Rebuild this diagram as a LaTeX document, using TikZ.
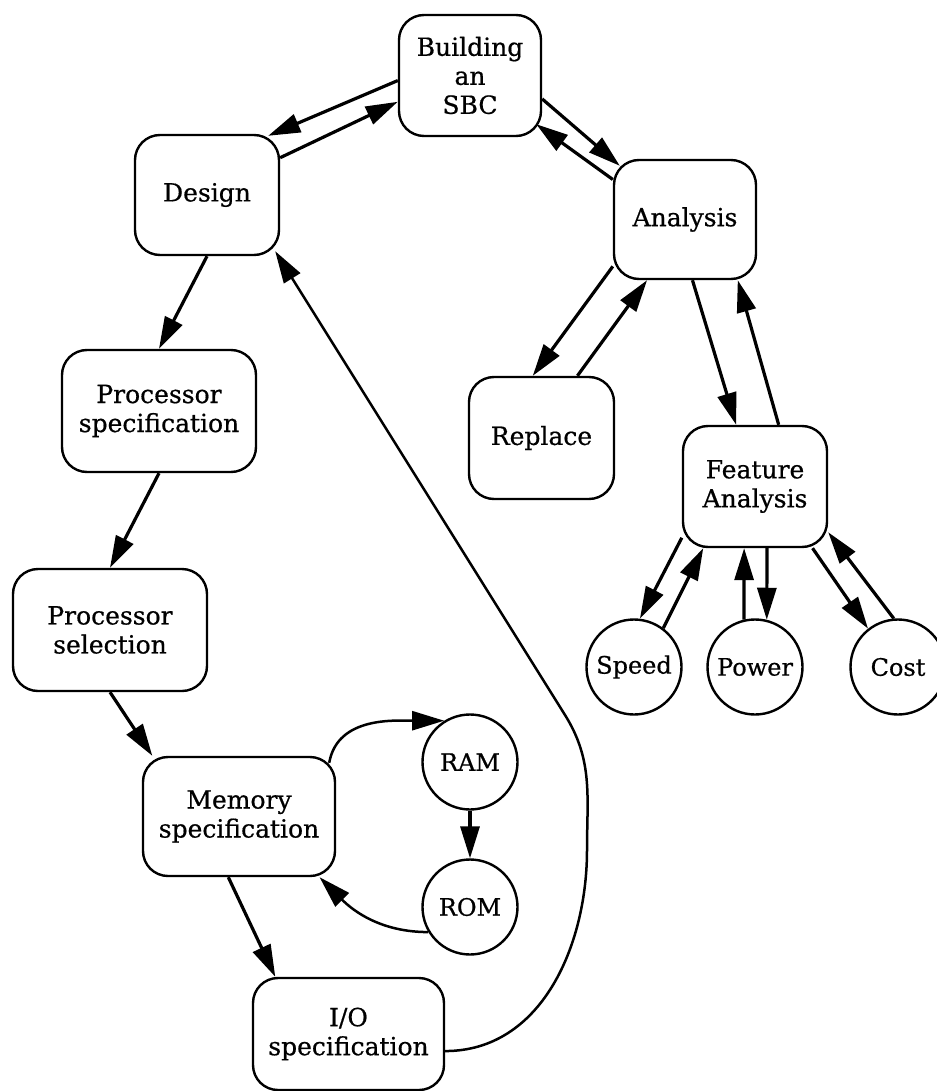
\documentclass[tikz,border=0pt]{standalone}
\usepackage{fontspec}
\setmainfont{DejaVu Serif}
\newfontfamily\boxfont[FakeBold=0.6]{DejaVu Serif}
\usetikzlibrary{arrows.meta,calc}

\begin{document}
\begin{tikzpicture}[x=1pt,y=1pt,
  box/.style={draw,line width=2.4pt,rounded corners=25pt,align=center,inner sep=0pt,
    font=\boxfont\fontsize{25}{29}\selectfont},
  ball/.style={draw,circle,line width=2.4pt,inner sep=0pt,minimum size=95pt,
    font=\boxfont\fontsize{24}{28}\selectfont},
  arr/.style={line width=3.2pt,-{Triangle[length=32pt,width=19pt]}},
  thinarr/.style={line width=2.5pt,-{Triangle[length=32pt,width=19pt]}}]
   \useasboundingbox (0,0) rectangle (936,-1091);
   % boxes
   \node[box,minimum width=142pt,minimum height=121pt] (build) at (470,-75.5)  {Building\\an\\SBC};
   \node[box,minimum width=144pt,minimum height=120pt] (design) at (207,-195)  {Design};
   \node[box,minimum width=142pt,minimum height=119pt] (anal) at (685,-219.5)  {Analysis};
   \node[box,minimum width=145pt,minimum height=122pt] (repl) at (541.5,-438)  {Replace};
   \node[box,minimum width=144pt,minimum height=121pt] (feat) at (755,-486.5)  {Feature\\Analysis};
   \node[box,minimum width=194pt,minimum height=122pt] (pspec) at (159,-411)   {Processor\\specification};
   \node[box,minimum width=194pt,minimum height=122pt] (psel) at (110,-630)    {Processor\\selection};
   \node[box,minimum width=192pt,minimum height=119pt] (mem) at (239,-816.5)   {Memory\\specification};
   \node[box,minimum width=191pt,minimum height=112pt] (io) at (348.5,-1034)   {I/O\\specification};
   % circles
   \node[ball] (speed) at (634,-667) {Speed};
   \node[ball] (power) at (755,-667) {Power};
   \node[ball] (cost)  at (898,-667) {Cost};
   \node[ball] (ram)   at (470,-762) {RAM};
   \node[ball] (rom)   at (470,-907) {ROM};
   % top
   \draw[arr] (build.184) -- ($(design.north east)+(-12,-2)$);
   \draw[arr] (design.27) -- (build.200);
   \draw[arr] (build.-18) -- ($(anal.north west)+(7,-7)$);
   \draw[arr] (anal.151)  -- ($(build.south east)+(-6,13)$);
   % analysis side
   \draw[arr] (anal.213) -- (repl.98);
   \draw[arr] (repl.60)  -- (anal.238);
   \draw[arr] (anal.277) -- (feat.107);
   \draw[arr] (feat.69)  -- (anal.311);
   \draw[arr] (feat.215) -- (speed.83);
   \draw[arr] (speed.53) -- (feat.230);
   \draw[arr] (power.103) -- (feat.260);
   \draw[arr] (feat.281) -- (power.76);
   \draw[arr] (feat.313) -- (cost.128);
   \draw[arr] (cost.95)  -- (feat.328);
   % design side
   \draw[arr] (design.south) -- (pspec.north);
   \draw[arr] (pspec.south)  -- (psel.north);
   \draw[arr] (psel.south)   -- (mem.145);
   \draw[arr] (mem.260)      -- (io.142);
   \draw[arr] (ram) -- (rom);
   \draw[thinarr] ($(mem.north east)+(-7,-7)$) to[out=80,in=180] (ram.122);
   \draw[thinarr] (rom.211) to[out=180,in=-45] (mem.323);
   % way back to design
   \coordinate (side) at (587,-850);
   \coordinate (kink) at (565,-715);
   \draw[thinarr] (io.-10) to[out=0,in=-90] (side) to[out=90,in=-58] (kink)
      -- ($(design.south east)+(-5,5)$);
  \end{tikzpicture}
\end{document}
